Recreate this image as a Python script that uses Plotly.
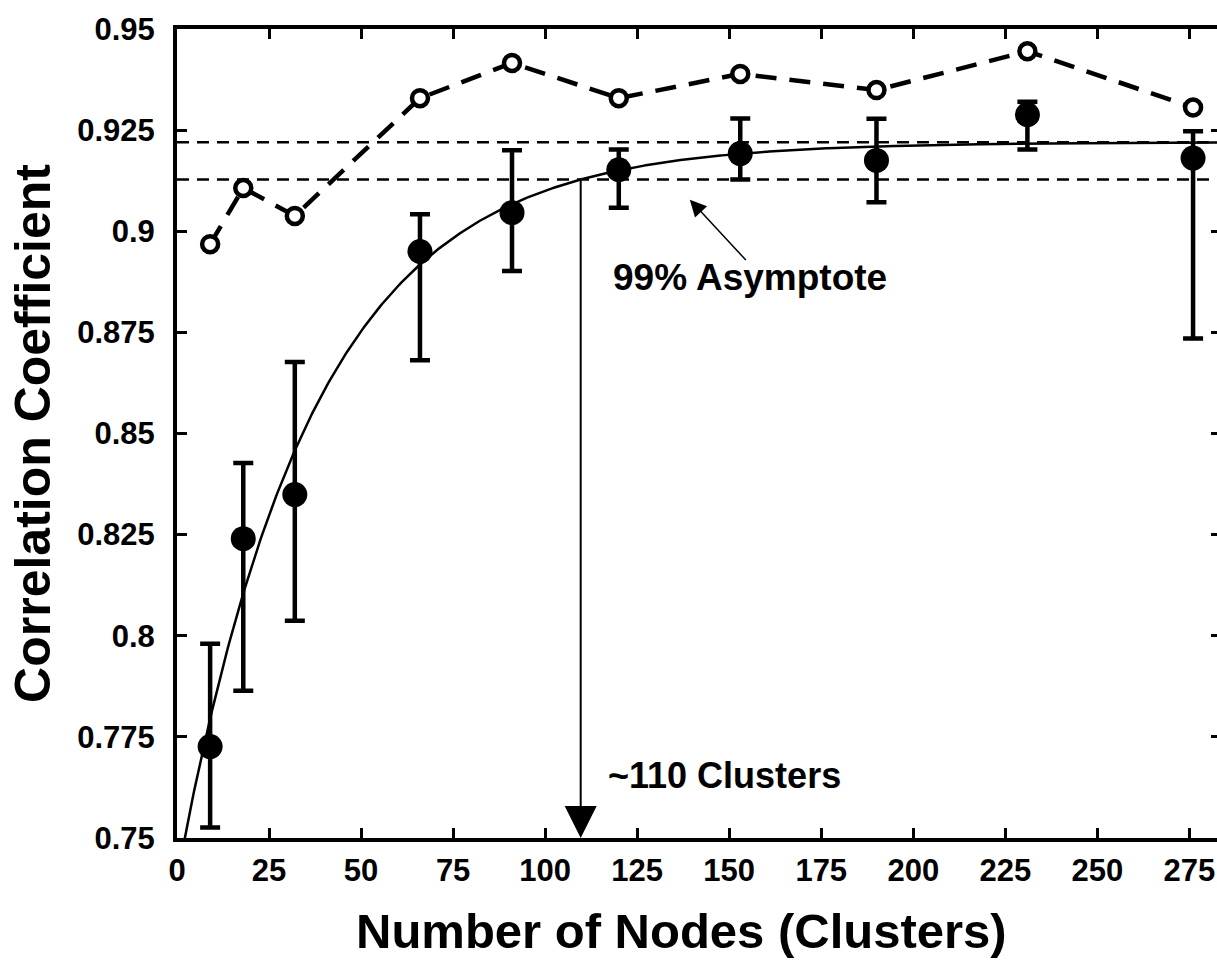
import numpy as np
import plotly.graph_objects as go

# Number of nodes (clusters) at which each model was evaluated
nodes = [9, 18, 32, 66, 91, 120, 153, 190, 231, 276]

# Mean correlation coefficient with the upper / lower ends of its range
mean_corr = [0.7726, 0.8240, 0.8349, 0.8950, 0.9046, 0.9152, 0.9192, 0.9175, 0.9288, 0.9181]
upper_corr = [0.7980, 0.8427, 0.8677, 0.9042, 0.9200, 0.9202, 0.9279, 0.9278, 0.9320, 0.9247]
lower_corr = [0.7526, 0.7864, 0.8037, 0.8681, 0.8902, 0.9058, 0.9128, 0.9072, 0.9202, 0.8735]

# Best correlation coefficient at each node count
best_corr = [0.8968, 0.9107, 0.9038, 0.9329, 0.9416, 0.9329, 0.9389, 0.9349, 0.9445, 0.9306]

# Exponential saturation fit: r(n) = ASYMPTOTE - AMPLITUDE * exp(-RATE * n)
ASYMPTOTE = 0.922
AMPLITUDE = 0.182
RATE = 0.0272
FRACTION = 0.99

x_ticks = [0, 25, 50, 75, 100, 125, 150, 175, 200, 225, 250, 275]
y_ticks = [0.75, 0.775, 0.8, 0.825, 0.85, 0.875, 0.9, 0.925, 0.95]
y_tick_text = ["0.75", "0.775", "0.8", "0.825", "0.85", "0.875", "0.9", "0.925", "0.95"]

X_MAX = 282.5
Y_MIN, Y_MAX = 0.75, 0.95

FONT = "Liberation Sans, Arial, Helvetica, sans-serif"

err_plus = [u - m for u, m in zip(upper_corr, mean_corr)]
err_minus = [m - l for m, l in zip(mean_corr, lower_corr)]

fit_x = np.linspace(0, X_MAX, 600)
fit_y = ASYMPTOTE - AMPLITUDE * np.exp(-RATE * fit_x)
level = FRACTION * ASYMPTOTE
n_level = np.log(AMPLITUDE / (ASYMPTOTE - level)) / RATE

fig = go.Figure()

# Fitted saturation curve
fig.add_trace(go.Scatter(
    x=fit_x, y=fit_y, mode="lines",
    line=dict(color="black", width=2.5),
    hoverinfo="skip", showlegend=False,
))

# Best-case correlation, dashed with open circles
fig.add_trace(go.Scatter(
    x=nodes, y=best_corr, mode="lines+markers",
    line=dict(color="black", width=4.5, dash="21px,13px"),
    marker=dict(symbol="circle", size=16, color="white",
                line=dict(color="black", width=4.5)),
    showlegend=False,
))

# Mean correlation with range bars
fig.add_trace(go.Scatter(
    x=nodes, y=mean_corr, mode="markers",
    marker=dict(symbol="circle", size=25, color="black"),
    error_y=dict(type="data", symmetric=False, array=err_plus, arrayminus=err_minus,
                 color="black", thickness=4.5, width=10),
    showlegend=False,
))

# Empty trace so the right-hand tick axis is drawn
fig.add_trace(go.Scatter(x=[], y=[], yaxis="y2", showlegend=False, hoverinfo="skip"))

# Asymptote and 99% asymptote reference lines
for yv in (ASYMPTOTE, level):
    fig.add_shape(type="line", xref="x", yref="y", x0=0, x1=X_MAX, y0=yv, y1=yv,
                  line=dict(color="black", width=2.5, dash="12px,8px"), layer="below")

# Arrow from the 99% crossing down to the axis
fig.add_annotation(
    x=n_level, y=Y_MIN, ax=n_level, ay=level, xref="x", yref="y", axref="x", ayref="y",
    text="", showarrow=True, arrowhead=2, arrowsize=3.2, arrowwidth=2, arrowcolor="black",
    standoff=0, startstandoff=0,
)

# Pointer to the 99% asymptote line
fig.add_annotation(
    x=139.3, y=0.9078, ax=154.9, ay=0.8925, xref="x", yref="y", axref="x", ayref="y",
    text="", showarrow=True, arrowhead=2, arrowsize=2.2, arrowwidth=1.5, arrowcolor="black",
    standoff=0, startstandoff=0,
)

fig.add_annotation(
    x=118.0, y=0.8885, xref="x", yref="y", xanchor="left", yanchor="middle",
    text="99% Asymptote", showarrow=False,
    font=dict(family=FONT, size=37, color="black", weight="bold"),
)

fig.add_annotation(
    x=116.5, y=0.7655, xref="x", yref="y", xanchor="left", yanchor="middle",
    text="~110 Clusters", showarrow=False,
    font=dict(family=FONT, size=36, color="black", weight="bold"),
)

# Axis titles
fig.add_annotation(
    x=0.485, y=-0.115, xref="paper", yref="paper", xanchor="center", yanchor="middle",
    text="Number of Nodes (Clusters)", showarrow=False,
    font=dict(family=FONT, size=49, color="black", weight="bold"),
)
fig.add_annotation(
    x=-0.139, y=0.5, xref="paper", yref="paper", xanchor="center", yanchor="middle",
    text="Correlation Coefficient", showarrow=False, textangle=-90,
    font=dict(family=FONT, size=50, color="black", weight="bold"),
)

tick_font = dict(family=FONT, size=31, color="black", weight="bold")

fig.update_layout(
    width=1217, height=961,
    margin=dict(l=177, r=0, t=29, b=123),
    paper_bgcolor="white", plot_bgcolor="white",
    showlegend=False,
    xaxis=dict(
        range=[0, X_MAX], tickvals=x_ticks, ticktext=[str(v) for v in x_ticks],
        showline=True, linewidth=4, linecolor="black", mirror="ticks",
        ticks="inside", ticklen=10, tickwidth=3, tickcolor="black",
        showgrid=False, zeroline=False, tickfont=tick_font, ticklabelstandoff=2,
    ),
    yaxis=dict(
        range=[Y_MIN, Y_MAX], tickvals=y_ticks, ticktext=y_tick_text,
        showline=True, linewidth=4, linecolor="black",
        ticks="inside", ticklen=10, tickwidth=3, tickcolor="black",
        showgrid=False, zeroline=False, tickfont=tick_font, ticklabelstandoff=12,
    ),
    yaxis2=dict(
        range=[Y_MIN, Y_MAX], tickvals=y_ticks, overlaying="y", side="right",
        showline=False, ticks="inside", ticklen=6, tickwidth=3, tickcolor="black",
        showticklabels=False, showgrid=False, zeroline=False,
    ),
)

fig.write_html("out.html")
